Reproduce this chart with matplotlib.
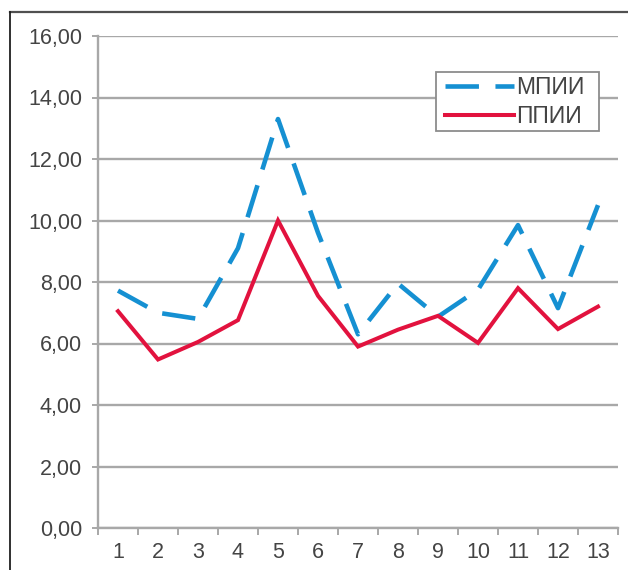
import matplotlib
matplotlib.use("Agg")
import matplotlib.pyplot as plt
from matplotlib.lines import Line2D
from matplotlib.patches import Rectangle

# Series values per period
periods = list(range(1, 14))
mpii = [7.72, 7.0, 6.8, 9.1, 13.3, 9.6, 6.3, 7.95, 6.87, 7.75, 9.85, 7.15, 10.5]
ppii = [7.05, 5.48, 6.05, 6.76, 10.0, 7.55, 5.9, 6.45, 6.9, 6.02, 7.8, 6.47, 7.2]
series_names = ["МПИИ", "ППИИ"]
y_ticks = [0, 2, 4, 6, 8, 10, 12, 14, 16]
y_tick_labels = ["0,00", "2,00", "4,00", "6,00", "8,00", "10,00", "12,00", "14,00", "16,00"]

blue = "#1590d2"
red = "#e2123e"
grid_gray = "#a8a8a8"
text_col = "#444444"

plt.rcParams["font.family"] = ["Liberation Sans", "DejaVu Sans"]

W, H = 628, 570
fig = plt.figure(figsize=(W / 100, H / 100), dpi=100)
ax = fig.add_axes([98 / W, 1 - 528 / H, 520 / W, 492 / H])

# Categories sit in the middle of their slots
xs = [p - 0.5 for p in periods]
ax.plot(xs, mpii, color=blue, lw=3.3, ls=(0, (7.3, 3.6)), dash_capstyle="butt",
        solid_joinstyle="miter", label=series_names[0], zorder=3)
ax.plot(xs, ppii, color=red, lw=2.9, solid_joinstyle="miter",
        label=series_names[1], zorder=4)

ax.set_xlim(0, len(periods))
ax.set_ylim(0, 16)
ax.set_yticks(y_ticks)
ax.set_yticklabels(y_tick_labels)
ax.set_xticks(range(0, len(periods) + 1))
ax.set_xticklabels([])
ax.set_xticks(xs, minor=True)
ax.set_xticklabels([str(p) for p in periods], minor=True)

ax.yaxis.grid(True, color=grid_gray, lw=1.7)
ax.set_axisbelow(True)
for side in ("top", "right"):
    ax.spines[side].set_visible(False)
for side in ("left", "bottom"):
    ax.spines[side].set_color(grid_gray)
    ax.spines[side].set_linewidth(1.7)

ax.tick_params(axis="y", which="major", direction="out", length=4.5, width=1.4,
               color=grid_gray, labelsize=15.5, labelcolor=text_col, pad=7)
ax.tick_params(axis="x", which="major", direction="out", length=5, width=1.4,
               color=grid_gray)
ax.tick_params(axis="x", which="minor", length=0, labelsize=15.5,
               labelcolor=text_col, pad=10)

# Legend box with its own frame, drawn under the legend entries
box = Rectangle((436 / W, 1 - 131 / H), 163 / W, 59 / H, transform=fig.transFigure,
                facecolor="white", edgecolor="#8c8c8c", lw=1.3, zorder=5,
                clip_on=False)
ax.add_patch(box)
leg = ax.legend(loc="upper left", bbox_to_anchor=(445 / W, 1 - 76 / H),
                bbox_transform=fig.transFigure, frameon=False,
                fontsize=16.5, handlelength=3.0, handletextpad=0.1,
                borderpad=0.0, labelspacing=0.25, borderaxespad=0)
leg.set_zorder(6)
for t in leg.get_texts():
    t.set_color(text_col)

# Outer frame around the chart
fig.add_artist(Line2D([10 / W, 1], [1 - 12 / H, 1 - 12 / H],
                      transform=fig.transFigure, color="#505050", lw=1.6))
fig.add_artist(Line2D([10 / W, 10 / W], [0, 1 - 12 / H],
                      transform=fig.transFigure, color="#202020", lw=1.3))

fig.savefig("out.png", dpi=100)
